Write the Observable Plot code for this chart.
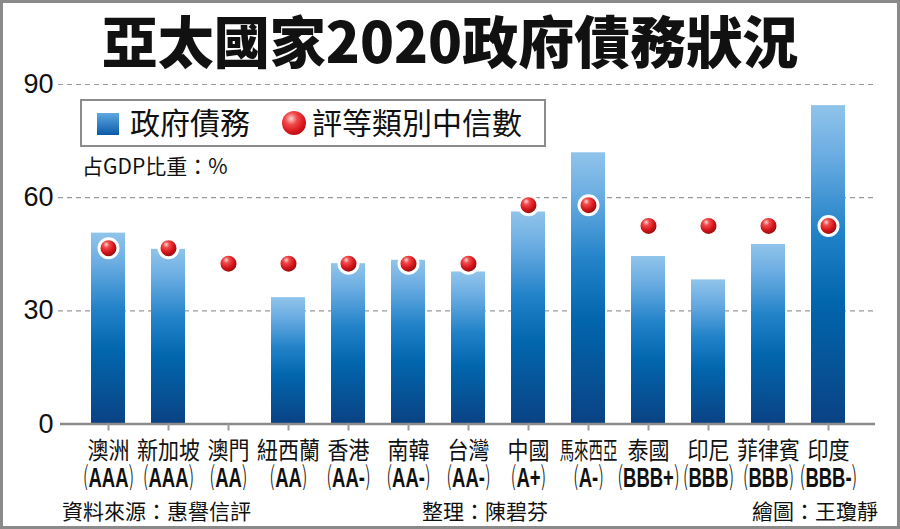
<!DOCTYPE html>
<html>
<head>
<meta charset="utf-8">
<script src="https://cdn.jsdelivr.net/npm/d3@7"></script>
<script src="https://cdn.jsdelivr.net/npm/@observablehq/plot@0.6"></script>
<style>
  html, body { margin: 0; padding: 0; background: #fff; }
  #wrap { position: relative; width: 900px; height: 529px; overflow: hidden; background: #fff;
          font-family: "Noto Sans CJK TC", "Noto Sans", sans-serif; color: #111; }
  #frame { position: absolute; left: 0; top: 0; width: 900px; height: 529px; box-sizing: border-box;
           border: 3px solid #8a8a8a; pointer-events: none; }
  #title { position: absolute; left: 0; width: 900px; top: 7px; text-align: center;
           font-size: 56px; font-weight: 900; line-height: 64px; letter-spacing: 0px; color: #111; }
  #chart { position: absolute; left: 0; top: 70px; }
  #legend { position: absolute; left: 80px; top: 99px; width: 466px; height: 48px; box-sizing: border-box;
            border: 2px solid #8c8c8c; background: #fff; }
  .lg-sq { position: absolute; left: 15px; top: 12px; width: 22px; height: 22px;
           background: linear-gradient(#5fa9e2, #0a5aa8); }
  .lg-ball { position: absolute; left: 200px; top: 10px; width: 24px; height: 24px; border-radius: 50%;
             background: radial-gradient(circle at 38% 32%, #ffd2d2 0%, #f04848 28%, #d4141a 62%, #8c0a0a 100%); }
  .lg-t { position: absolute; top: -2px; font-size: 30px; line-height: 44px; color: #111; }
  #sub { position: absolute; left: 82px; top: 151px; font-size: 21px; line-height: 28px; color: #111; }
  .foot { position: absolute; top: 496px; font-size: 21px; line-height: 28px; color: #111; }
</style>
</head>
<body>
<div id="wrap">
  <div id="title">亞太國家2020政府債務狀況</div>
  <div id="chart"></div>
  <div id="legend">
    <div class="lg-sq"></div><div class="lg-t" style="left:48px">政府債務</div>
    <div class="lg-ball"></div><div class="lg-t" style="left:230px">評等類別中信數</div>
  </div>
  <div id="sub">占GDP比重：%</div>
  <div class="foot" style="left:62px">資料來源：惠譽信評</div>
  <div class="foot" style="left:422px">整理：陳碧芬</div>
  <div class="foot" style="left:752px">繪圖：王瓊靜</div>
  <div id="frame"></div>
</div>
<script>
// ---- data ----
const countries = ["澳洲", "新加坡", "澳門", "紐西蘭", "香港", "南韓", "台灣", "中國", "馬來西亞", "泰國", "印尼", "菲律賓", "印度"];
const ratings   = ["AAA", "AAA", "AA", "AA", "AA-", "AA-", "AA-", "A+", "A-", "BBB+", "BBB", "BBB", "BBB-"];
const govDebt   = [50.6, 46.3, null, 33.5, 42.5, 43.4, 40.3, 56.2, 71.9, 44.4, 38.2, 47.6, 84.4];
const ratingMedian = [46.6, 46.6, 42.5, 42.5, 42.5, 42.5, 42.5, 58.0, 58.0, 52.5, 52.5, 52.5, 52.5];
const yTicks = [0, 30, 60, 90];
const gridTicks = [30, 60, 90];

const rows = countries.map((c, i) => ({country: c, rating: ratings[i], debt: govDebt[i], median: ratingMedian[i]}));

function defs() {
  const g = d3.create("svg:defs");
  const lg = g.append("linearGradient").attr("id", "barGrad").attr("x1", 0).attr("y1", 0).attr("x2", 0).attr("y2", 1);
  [[0, "#90c4ea"], [0.15, "#6daee3"], [0.4, "#2182c8"], [0.62, "#0266ad"], [1, "#0a4284"]]
    .forEach(([o, c]) => lg.append("stop").attr("offset", o).attr("stop-color", c));
  const rg = g.append("radialGradient").attr("id", "ballGrad").attr("cx", 0.4).attr("cy", 0.35).attr("r", 0.65)
    .attr("fx", 0.38).attr("fy", 0.3);
  [[0, "#ffd6d6"], [0.25, "#f24a4a"], [0.6, "#d5161c"], [1, "#870909"]]
    .forEach(([o, c]) => rg.append("stop").attr("offset", o).attr("stop-color", c));
  return g.node();
}

const chart = Plot.plot({
  width: 900,
  height: 420,
  marginTop: 14,
  marginBottom: 66.5,
  marginLeft: 62,
  marginRight: 25,
  style: {background: "transparent", fontFamily: "'Noto Sans CJK TC', sans-serif", color: "#111"},
  x: {domain: countries, padding: 0.43, axis: null, label: null},
  y: {domain: [0, 90], axis: null, label: null},
  marks: [
    defs,
    Plot.ruleY(gridTicks, {y: d => d, stroke: "#9a9a9a", strokeWidth: 1.2, strokeDasharray: "5,4", insetLeft: -4}),
    Plot.axisY(yTicks, {tickSize: 0, tickPadding: 9, fontSize: 27, fill: "#111", label: null,
      fontFamily: "'Liberation Sans Narrow', 'Liberation Sans', sans-serif"}),
    Plot.barY(rows, {x: "country", y: "debt", fill: "url(#barGrad)"}),
    Plot.ruleY([0], {stroke: "#8a8a8a", strokeWidth: 2.5, insetLeft: -2}),
    Plot.axisX({tickSize: 7, tickFormat: () => "", stroke: "#9a9a9a", strokeWidth: 2, label: null}),
    Plot.dot(rows, {x: "country", y: "median", r: 9.5, fill: "url(#ballGrad)", stroke: "#fff", strokeWidth: 3}),
    Plot.text(rows, {x: "country", frameAnchor: "bottom", dy: 27, text: "country", fontSize: 24, fill: "#111", lineAnchor: "middle"}),
    Plot.text(rows, {x: "country", frameAnchor: "bottom", dy: 54, text: d => "(" + d.rating + ")", fontSize: 28, fill: "#111", lineAnchor: "middle"})
  ]
});
document.getElementById("chart").appendChild(chart);

// condense labels like the newspaper typeface (horizontal scale about the anchor)
const svg = d3.select(chart);
svg.selectAll("text").each(function () {
  const t = d3.select(this);
  const s = this.textContent;
  const tr = t.attr("transform") || "";
  if (countries.includes(s)) {
    const k = s.length >= 4 ? 0.6 : 0.875;
    t.attr("transform", tr + ` scale(${k},1)`);
  } else if (/^\([A-Z+\-]+\)$/.test(s)) {
    const inner = s.slice(1, -1);
    t.text(null);
    t.append("tspan").attr("font-weight", 300).attr("font-family", "'Noto Sans CJK TC', sans-serif").text("(");
    t.append("tspan").attr("font-weight", 700).attr("font-family", "'Liberation Sans Narrow', 'Liberation Sans', sans-serif").text(inner);
    t.append("tspan").attr("font-weight", 300).attr("font-family", "'Noto Sans CJK TC', sans-serif").text(")");
    t.attr("transform", tr + " scale(0.66,1)");
  }
});
</script>
</body>
</html>
